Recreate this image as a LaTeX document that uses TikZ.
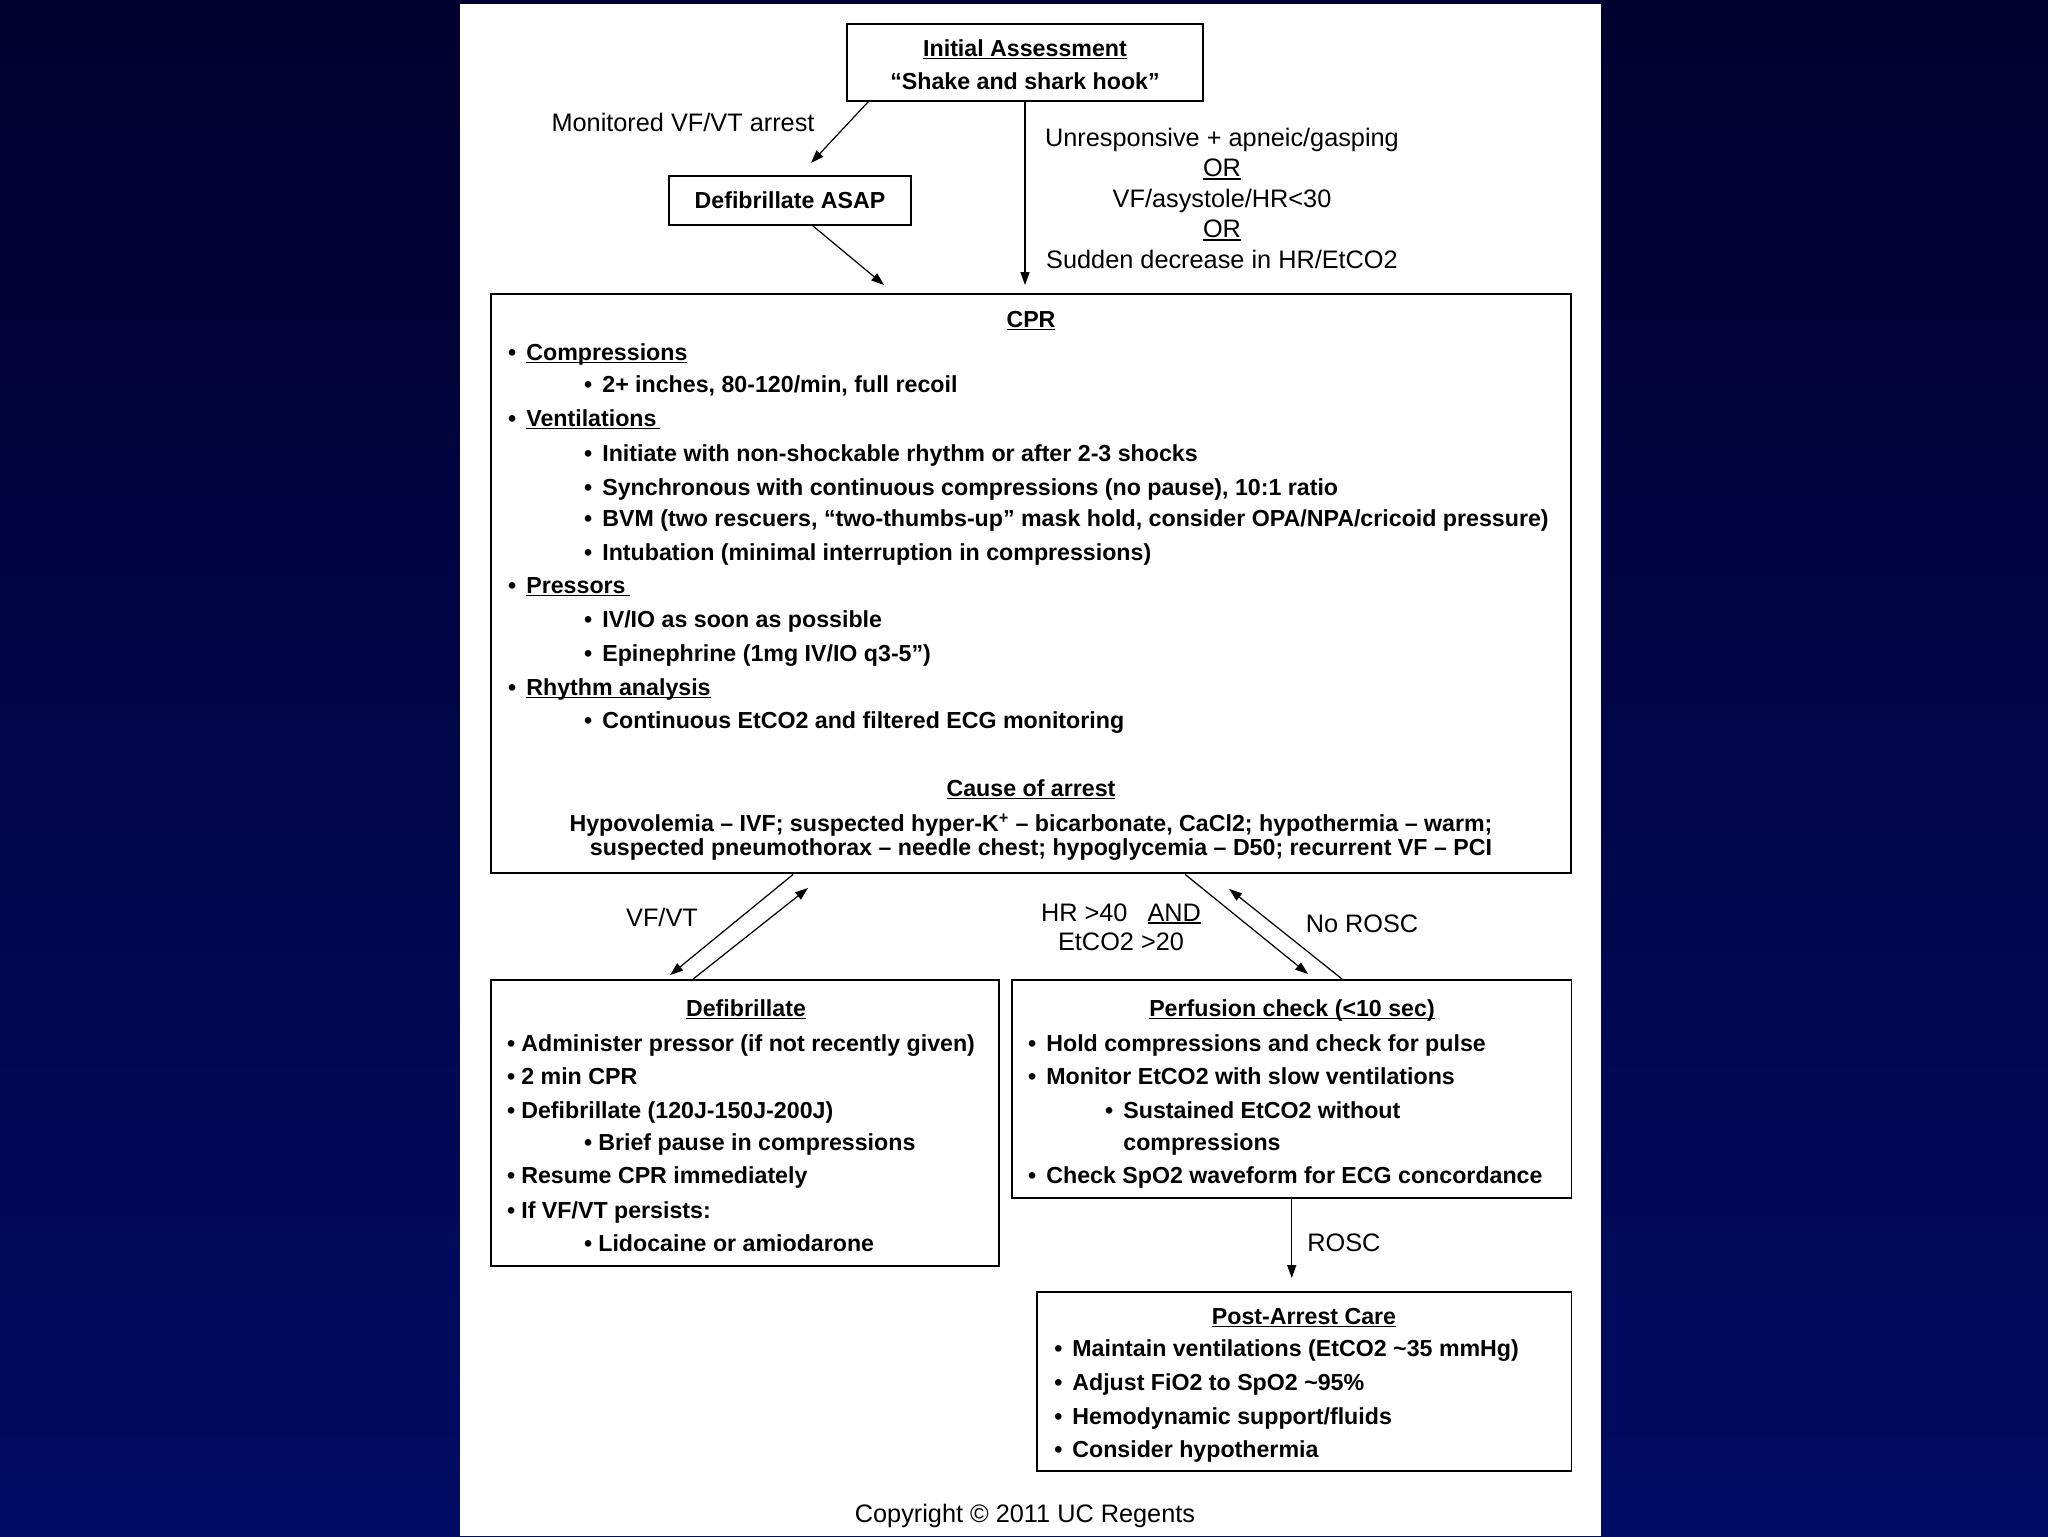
\documentclass[tikz,border=0pt]{standalone}
\usepackage{fontspec}
\setmainfont{Liberation Sans}
\usetikzlibrary{arrows.meta,calc}

\definecolor{slidetop}{RGB}{2,0,46}
\definecolor{slidebot}{RGB}{0,12,100}

\newcommand\bodyfont{\fontsize{13.2}{16}\selectfont\bfseries}
\newcommand\labfont{\fontsize{14.4}{17}\selectfont}
\newcommand\uln[1]{\leavevmode\setbox0=\hbox{#1}\rlap{\rule[-0.13em]{\wd0}{0.075em}}\box0}
\newcommand\bul{\llap{•\hspace{0.2cm}}}
\newcommand\bulc{\llap{•\hspace{0.12cm}}}

\tikzset{
  box/.style={draw, line width=1.1pt, inner sep=0pt},
  txt/.style={inner sep=0pt, text height=9.5pt, text depth=0pt, font=\bodyfont},
  item/.style={txt, anchor=west},
  lab/.style={inner sep=0pt, text height=10.3pt, text depth=0pt, font=\labfont},
  arr/.style={-{Triangle[length=0.26cm,width=0.18cm]}, line width=0.7pt}
}

\begin{document}
\begin{tikzpicture}[x=0.02cm, y=-0.02cm]
% Slide background
\useasboundingbox (0,0) rectangle (2048,1536);
\shade[top color=slidetop, bottom color=slidebot] (0,0) rectangle (2048,1536);
\fill[white] (460,4) rectangle (1601,1536);

% Boxes
\node[box, minimum width=7.12cm, minimum height=1.54cm] (init) at (1025,62.5) {};
\node[box, txt, minimum width=4.84cm, minimum height=0.98cm] (asap) at (790,200.5) {Defibrillate ASAP};
\node[box, minimum width=21.61cm, minimum height=11.59cm] (cpr) at (1031.25,583.75) {};
\node[box, minimum width=10.16cm, minimum height=5.72cm] (defib) at (745,1123) {};
\node[box, minimum width=11.19cm, minimum height=4.36cm] (perf) at (1291.75,1089) {};
\node[box, minimum width=10.69cm, minimum height=3.58cm] (post) at (1304.25,1381.5) {};

% Initial assessment
\node[txt] (inithead) at (1025,48) {\uln{Initial Assessment}};
\node[txt] (initsub) at (1025,81) {“Shake and shark hook”};

% Labels on the way in
\node[lab] (monlab) at (683,122) {Monitored VF/VT arrest};
\node[lab] (cond1) at (1222,137) {Unresponsive + apneic/gasping};
\node[lab] (cond2) at (1222,167.5) {\uln{OR}};
\node[lab] (cond3) at (1222,198) {VF/asystole/HR<30};
\node[lab] (cond4) at (1222,228.5) {\uln{OR}};
\node[lab] (cond5) at (1222,259) {Sudden decrease in HR/EtCO2};

% CPR box
\node[txt] (cprhead) at (1031,319) {\uln{CPR}};
\node[item] (comp) at (526,352) {\bul\uln{Compressions}};
\node[item] (comp1) at (602,384) {\bul 2+ inches, 80-120/min, full recoil};
\node[item] (vent) at (526,418) {\bul\uln{Ventilations\,}};
\node[item] (vent1) at (602,453) {\bul Initiate with non-shockable rhythm or after 2-3 shocks};
\node[item] (vent2) at (602,487) {\bul Synchronous with continuous compressions (no pause), 10:1 ratio};
\node[item] (vent3) at (602,518) {\bul BVM (two rescuers, “two-thumbs-up” mask hold, consider OPA/NPA/cricoid pressure)};
\node[item] (vent4) at (602,552) {\bul Intubation (minimal interruption in compressions)};
\node[item] (pres) at (526,585) {\bul\uln{Pressors\,}};
\node[item] (pres1) at (602,619) {\bul IV/IO as soon as possible};
\node[item] (pres2) at (602,653) {\bul Epinephrine (1mg IV/IO q3-5”)};
\node[item] (rhy) at (526,687) {\bul\uln{Rhythm analysis}};
\node[item] (rhy1) at (602,720) {\bul Continuous EtCO2 and filtered ECG monitoring};
\node[txt] (causehead) at (1031,788) {\uln{Cause of arrest}};
\node[txt] (cause1) at (1031,823) {Hypovolemia – IVF; suspected hyper-K\textsuperscript{+} – bicarbonate, CaCl2; hypothermia – warm;};
\node[txt] (cause2) at (1041,847) {suspected pneumothorax – needle chest; hypoglycemia – D50; recurrent VF – PCI};

% Defibrillate box
\node[txt] (defhead) at (746,1008) {\uln{Defibrillate}};
\node[item] (def1) at (521,1043) {\bulc Administer pressor (if not recently given)};
\node[item] (def2) at (521,1076) {\bulc 2 min CPR};
\node[item] (def3) at (521,1110) {\bulc Defibrillate (120J-150J-200J)};
\node[item] (def4) at (598,1142) {\bulc Brief pause in compressions};
\node[item] (def5) at (521,1175) {\bulc Resume CPR immediately};
\node[item] (def6) at (521,1210) {\bulc If VF/VT persists:};
\node[item] (def7) at (598,1243) {\bulc Lidocaine or amiodarone};

% Perfusion check box
\node[txt] (perfhead) at (1292,1008) {\uln{Perfusion check (<10 sec)}};
\node[item] (perf1) at (1046,1043) {\bul Hold compressions and check for pulse};
\node[item] (perf2) at (1046,1076) {\bul Monitor EtCO2 with slow ventilations};
\node[item] (perf3) at (1123,1110) {\bul Sustained EtCO2 without};
\node[item] (perf4) at (1123,1142) {compressions};
\node[item] (perf5) at (1046,1175) {\bul Check SpO2 waveform for ECG concordance};

% Post-arrest box
\node[txt] (posthead) at (1304,1316) {\uln{Post-Arrest Care}};
\node[item] (post1) at (1072,1348) {\bul Maintain ventilations (EtCO2 \textasciitilde 35 mmHg)};
\node[item] (post2) at (1072,1382) {\bul Adjust FiO2 to SpO2 \textasciitilde 95\%};
\node[item] (post3) at (1072,1416) {\bul Hemodynamic support/fluids};
\node[item] (post4) at (1072,1449) {\bul Consider hypothermia};

% Labels between boxes
\node[lab] (vflab) at (662,917) {VF/VT};
\node[lab] (hrlab) at (1121,912) {HR >40\hspace{0.4cm}\uln{AND}};
\node[lab] (etlab) at (1121,941) {EtCO2 >20};
\node[lab] (noroscl) at (1362,923) {No ROSC};
\node[lab, anchor=west] (rosclab) at (1307,1242) {ROSC};
\node[lab] (copy) at (1025,1513) {Copyright © 2011 UC Regents};

% Connectors
\coordinate (asaptip) at (811,163);
\draw[arr] ($(init.south west)+(22,0)$) -- (asaptip);
\draw[arr] (init.south) -- ($(init.south |- cpr.north)+(0,-8)$);
\draw[arr] ($(asap.south)+(23,0)$) -- ($(cpr.north west)+(394,-8)$);
\draw[arr] ($(cpr.south west)+(303,0)$) -- ($(defib.north west)+(180,-4)$);
\draw[arr] ($(defib.north west)+(203,0)$) -- ($(cpr.south west)+(318,13.5)$);
\draw[arr] ($(cpr.south west)+(695,0)$) -- ($(perf.north west)+(297,-5)$);
\draw[arr] ($(perf.north west)+(331,0)$) -- ($(cpr.south west)+(739,14.5)$);
\draw[arr] (perf.south) -- ($(perf.south |- post.north)+(0,-13)$);

\end{tikzpicture}
\end{document}
